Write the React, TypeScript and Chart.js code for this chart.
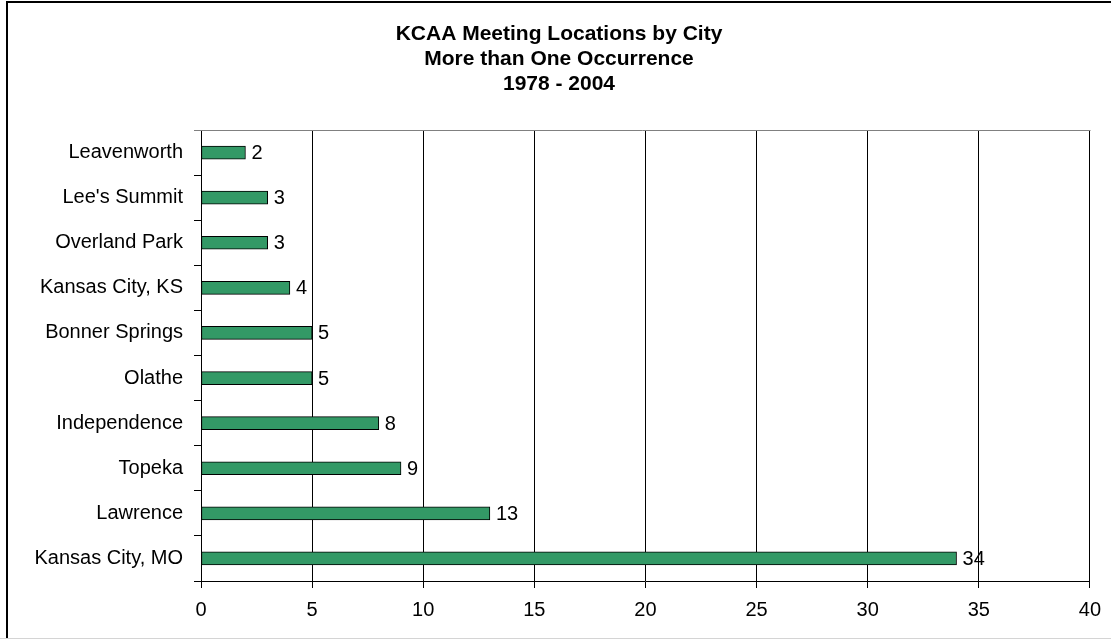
import React, { useEffect, useRef } from "react";
import { Chart, registerables } from "chart.js";

Chart.register(...registerables);

const categories = [
  "Leavenworth",
  "Lee's Summit",
  "Overland Park",
  "Kansas City, KS",
  "Bonner Springs",
  "Olathe",
  "Independence",
  "Topeka",
  "Lawrence",
  "Kansas City, MO",
];
const meetings = [2, 3, 3, 4, 5, 5, 8, 9, 13, 34];
const titleLines = ["KCAA Meeting Locations by City", "More than One Occurrence", "1978 - 2004"];
const xMin = 0;
const xMax = 40;
const xStep = 5;

const FONT = "Arial, 'Liberation Sans', sans-serif";

export default function App() {
  const ref = useRef<HTMLCanvasElement | null>(null);

  useEffect(() => {
    if (!ref.current) return;

    const framePlugin = {
      id: "frame",
      beforeDraw(chart: any) {
        const ctx = chart.ctx;
        ctx.save();
        ctx.fillStyle = "#ffffff";
        ctx.fillRect(0, 0, chart.width, chart.height);
        ctx.fillStyle = "#000000";
        ctx.fillRect(6, 1, 2, 637);
        ctx.fillRect(6, 1, chart.width - 6, 2);
        ctx.fillStyle = "#d4d4d4";
        ctx.fillRect(0, 638, chart.width, 1);
        ctx.restore();
      },
      afterDraw(chart: any) {
        const ctx = chart.ctx;
        const a = chart.chartArea;
        ctx.save();
        ctx.strokeStyle = "#808080";
        ctx.lineWidth = 1;
        ctx.beginPath();
        ctx.moveTo(194, Math.round(a.top) + 0.5);
        ctx.lineTo(Math.round(a.right) + 0.5, Math.round(a.top) + 0.5);
        ctx.stroke();
        // title
        ctx.fillStyle = "#000";
        ctx.font = `bold 21px ${FONT}`;
        ctx.textAlign = "center";
        ctx.textBaseline = "alphabetic";
        titleLines.forEach((t, i) => ctx.fillText(t, 559, 40 + i * 25));
        ctx.restore();
      },
      afterDatasetsDraw(chart: any) {
        const ctx = chart.ctx;
        const meta = chart.getDatasetMeta(0);
        ctx.save();
        ctx.fillStyle = "#000";
        ctx.font = `20px ${FONT}`;
        ctx.textAlign = "left";
        ctx.textBaseline = "middle";
        meta.data.forEach((el: any, i: number) => {
          ctx.fillText(String(meetings[i]), el.x + 6, el.y + 1);
        });
        ctx.restore();
      },
    };

    const chart = new Chart(ref.current, {
      type: "bar",
      data: {
        labels: categories,
        datasets: [
          {
            data: meetings,
            backgroundColor: "#339966",
            borderColor: "#000000",
            borderWidth: 1,
            borderSkipped: false,
            barThickness: 13,
          },
        ],
      },
      options: {
        indexAxis: "y",
        responsive: false,
        animation: false,
        layout: { padding: { top: 130, right: 21, left: 0, bottom: 0 } },
        plugins: {
          legend: { display: false },
          title: { display: false },
          tooltip: { enabled: false },
        },
        scales: {
          x: {
            type: "linear",
            min: xMin,
            max: xMax,
            ticks: {
              stepSize: xStep,
              color: "#000",
              font: { family: FONT, size: 20 },
              padding: 10,
              maxRotation: 0,
            },
            grid: { color: "#000", lineWidth: 1, tickLength: 7, drawTicks: true },
            border: { display: true, color: "#000", width: 1 },
            afterFit(scale: any) {
              scale.height = 59;
            },
          },
          y: {
            type: "category",
            offset: true,
            ticks: {
              color: "#000",
              font: { family: FONT, size: 20 },
              padding: 11,
            },
            grid: {
              offset: true,
              drawOnChartArea: false,
              tickLength: 7,
              color: "#000",
            },
            border: { display: true, color: "#000", width: 1 },
            afterFit(scale: any) {
              scale.width = 201;
            },
          },
        },
      },
      plugins: [framePlugin],
    });

    return () => chart.destroy();
  }, []);

  return (
    <div style={{ position: "absolute", left: 0, top: 0, width: 1111, height: 640 }}>
      <canvas ref={ref} width={1111} height={640} style={{ width: 1111, height: 640, display: "block" }} />
    </div>
  );
}
